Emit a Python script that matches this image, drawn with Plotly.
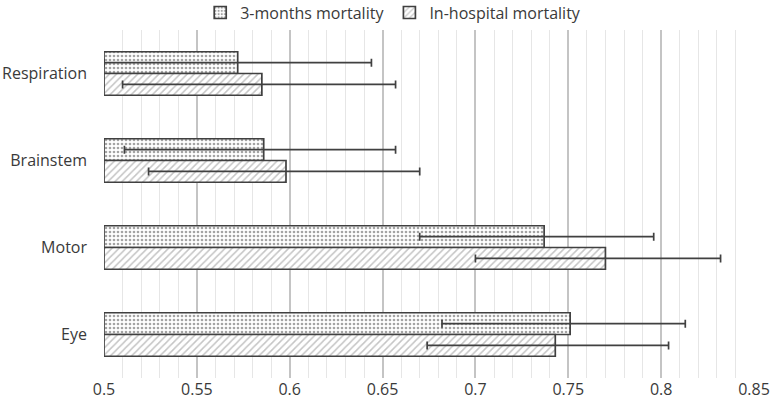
import plotly.graph_objects as go

categories = ["Respiration", "Brainstem", "Motor", "Eye"]
months3 = [0.572, 0.586, 0.737, 0.751]
months3_low = [0.500, 0.511, 0.670, 0.682]
months3_high = [0.644, 0.657, 0.796, 0.813]
hosp = [0.585, 0.598, 0.770, 0.743]
hosp_low = [0.510, 0.524, 0.700, 0.674]
hosp_high = [0.657, 0.670, 0.832, 0.804]
x_ticks = [0.5, 0.55, 0.6, 0.65, 0.7, 0.75, 0.8, 0.85]

font = "Open Sans"
dark = "#404040"
text_col = "#3a3a3a"

def err(v, lo, hi):
    return dict(type="data", symmetric=False,
                array=[h - a for a, h in zip(v, hi)],
                arrayminus=[a - l for a, l in zip(v, lo)],
                color=dark, thickness=1.7, width=4)

fig = go.Figure()
fig.add_trace(go.Bar(
    name="3-months mortality", y=categories, x=[v - 0.5 for v in months3], base=0.5,
    orientation="h",
    marker=dict(color="white", line=dict(color=dark, width=1.7),
                pattern=dict(shape=".", fgcolor="#4a4a4a", bgcolor="white", size=4, solidity=0.35)),
    error_x=err(months3, months3_low, months3_high),
))
fig.add_trace(go.Bar(
    name="In-hospital mortality", y=categories, x=[v - 0.5 for v in hosp], base=0.5,
    orientation="h",
    marker=dict(color="white", line=dict(color=dark, width=1.7),
                pattern=dict(shape="/", fgcolor="#8a8a8a", bgcolor="white", size=5, solidity=0.3)),
    error_x=err(hosp, hosp_low, hosp_high),
))

fig.update_layout(
    width=771, height=405,
    margin=dict(l=104, r=17, t=30, b=27, autoexpand=False),
    paper_bgcolor="white", plot_bgcolor="white",
    barmode="group", bargap=0.5, bargroupgap=0,
    font=dict(family=font, size=16, color=text_col),
    legend=dict(orientation="h", x=0.51, xanchor="center", xref="container",
                y=1.05, yanchor="middle", yref="paper",
                font=dict(size=16, color=text_col), itemwidth=30, traceorder="normal",
                tracegroupgap=0),
    showlegend=True,
)
fig.update_xaxes(range=[0.5, 0.85], tickvals=x_ticks, ticktext=[f"{t:g}" for t in x_ticks],
                 showgrid=True, gridcolor="#c4c4c4", gridwidth=1.6,
                 minor=dict(dtick=0.01, tick0=0.5, showgrid=True, gridcolor="#e6e6e6", gridwidth=1.4),
                 zeroline=False, showline=False, automargin=False,
                 tickfont=dict(size=16, color=text_col))
fig.update_yaxes(autorange="reversed", showgrid=False, showline=False, ticks="",
                 automargin=False, ticklabelstandoff=16, tickfont=dict(size=16, color=text_col))

fig.write_html("out.html", config={"displayModeBar": False},
               post_script="document.body.style.margin='0';")
